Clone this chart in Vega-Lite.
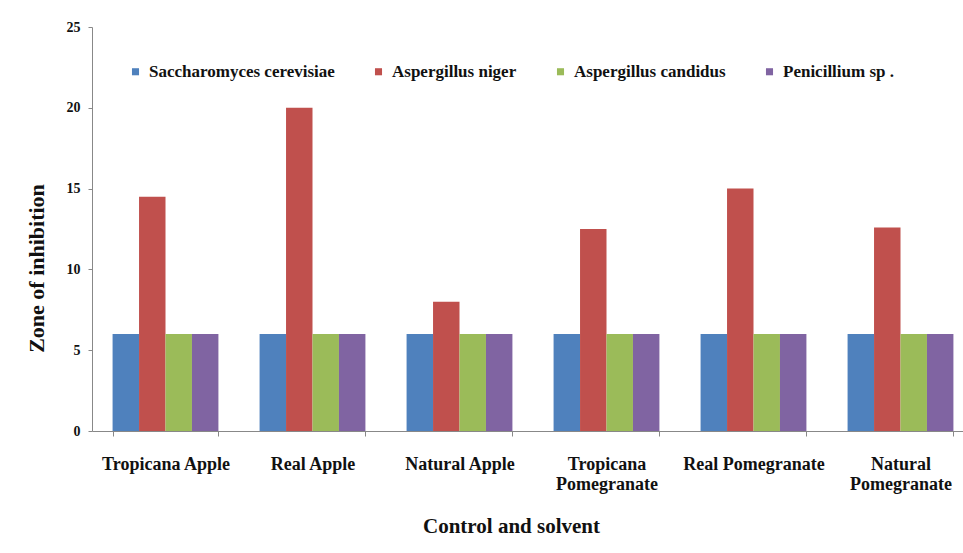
{
  "$schema": "https://vega.github.io/schema/vega-lite/v6.json",
  "autosize": {"type": "none"},
  "padding": {"left": 92, "top": 27, "right": 0, "bottom": 122},
  "width": 882,
  "height": 404,
  "background": "white",
  "config": {
    "font": "Liberation Serif",
    "view": {"stroke": null},
    "style": {"guide-label": {"font": "Liberation Serif", "fontWeight": "bold"}, "guide-title": {"font": "Liberation Serif", "fontWeight": "bold"}},
    "axis": {"labelFont": "Liberation Serif", "titleFont": "Liberation Serif", "labelFontWeight": "bold", "titleFontWeight": "bold", "labelColor": "#111", "titleColor": "#111", "domainColor": "#888", "tickColor": "#888", "grid": false},
    "legend": {"labelFont": "Liberation Serif", "labelFontWeight": "bold", "labelColor": "#111"}
  },
  "data": {
    "values": [
      {"sample": "Tropicana Apple", "organism": "Saccharomyces cerevisiae", "zone": 6},
      {"sample": "Tropicana Apple", "organism": "Aspergillus niger", "zone": 14.5},
      {"sample": "Tropicana Apple", "organism": "Aspergillus candidus", "zone": 6},
      {"sample": "Tropicana Apple", "organism": "Penicillium sp .", "zone": 6},
      {"sample": "Real Apple", "organism": "Saccharomyces cerevisiae", "zone": 6},
      {"sample": "Real Apple", "organism": "Aspergillus niger", "zone": 20},
      {"sample": "Real Apple", "organism": "Aspergillus candidus", "zone": 6},
      {"sample": "Real Apple", "organism": "Penicillium sp .", "zone": 6},
      {"sample": "Natural Apple", "organism": "Saccharomyces cerevisiae", "zone": 6},
      {"sample": "Natural Apple", "organism": "Aspergillus niger", "zone": 8},
      {"sample": "Natural Apple", "organism": "Aspergillus candidus", "zone": 6},
      {"sample": "Natural Apple", "organism": "Penicillium sp .", "zone": 6},
      {"sample": "Tropicana|Pomegranate", "organism": "Saccharomyces cerevisiae", "zone": 6},
      {"sample": "Tropicana|Pomegranate", "organism": "Aspergillus niger", "zone": 12.5},
      {"sample": "Tropicana|Pomegranate", "organism": "Aspergillus candidus", "zone": 6},
      {"sample": "Tropicana|Pomegranate", "organism": "Penicillium sp .", "zone": 6},
      {"sample": "Real Pomegranate", "organism": "Saccharomyces cerevisiae", "zone": 6},
      {"sample": "Real Pomegranate", "organism": "Aspergillus niger", "zone": 15},
      {"sample": "Real Pomegranate", "organism": "Aspergillus candidus", "zone": 6},
      {"sample": "Real Pomegranate", "organism": "Penicillium sp .", "zone": 6},
      {"sample": "Natural|Pomegranate", "organism": "Saccharomyces cerevisiae", "zone": 6},
      {"sample": "Natural|Pomegranate", "organism": "Aspergillus niger", "zone": 12.6},
      {"sample": "Natural|Pomegranate", "organism": "Aspergillus candidus", "zone": 6},
      {"sample": "Natural|Pomegranate", "organism": "Penicillium sp .", "zone": 6}
    ]
  },
  "mark": {"type": "bar"},
  "encoding": {
    "x": {
      "field": "sample", "type": "nominal", "sort": null,
      "scale": {"paddingInner": 0.28, "paddingOuter": 0.14},
      "axis": {
        "title": "Control and solvent", "titleFontSize": 21, "titleX": 419, "titlePadding": 22,
        "labelAngle": 0, "labelFontSize": 18, "labelPadding": 19, "labelBaseline": "top", "labelLineHeight": 20,
        "labelExpr": "split(datum.label, '|')", "tickBand": "extent", "tickSize": 5, "labelLimit": 250
      }
    },
    "xOffset": {"field": "organism", "type": "nominal", "sort": ["Saccharomyces cerevisiae", "Aspergillus niger", "Aspergillus candidus", "Penicillium sp ."]},
    "y": {
      "field": "zone", "type": "quantitative",
      "scale": {"domain": [0, 25]},
      "axis": {"title": "Zone of inhibition", "titleFontSize": 22, "titleY": 241, "titlePadding": 18, "values": [0, 5, 10, 15, 20, 25], "labelFontSize": 14, "tickSize": 4, "labelPadding": 8}
    },
    "color": {
      "field": "organism", "type": "nominal",
      "sort": ["Saccharomyces cerevisiae", "Aspergillus niger", "Aspergillus candidus", "Penicillium sp ."],
      "scale": {"range": ["#4F81BD", "#C0504D", "#9BBB59", "#8064A2"]},
      "legend": {
        "title": null, "orient": "none", "legendX": 35, "legendY": 36, "direction": "horizontal", "symbolType": "square", "symbolSize": 50,
        "labelFontSize": 17, "labelFont": "Liberation Serif", "labelFontWeight": "bold", "labelLimit": 400, "columnPadding": 35, "labelOffset": 5
      }
    }
  }
}
